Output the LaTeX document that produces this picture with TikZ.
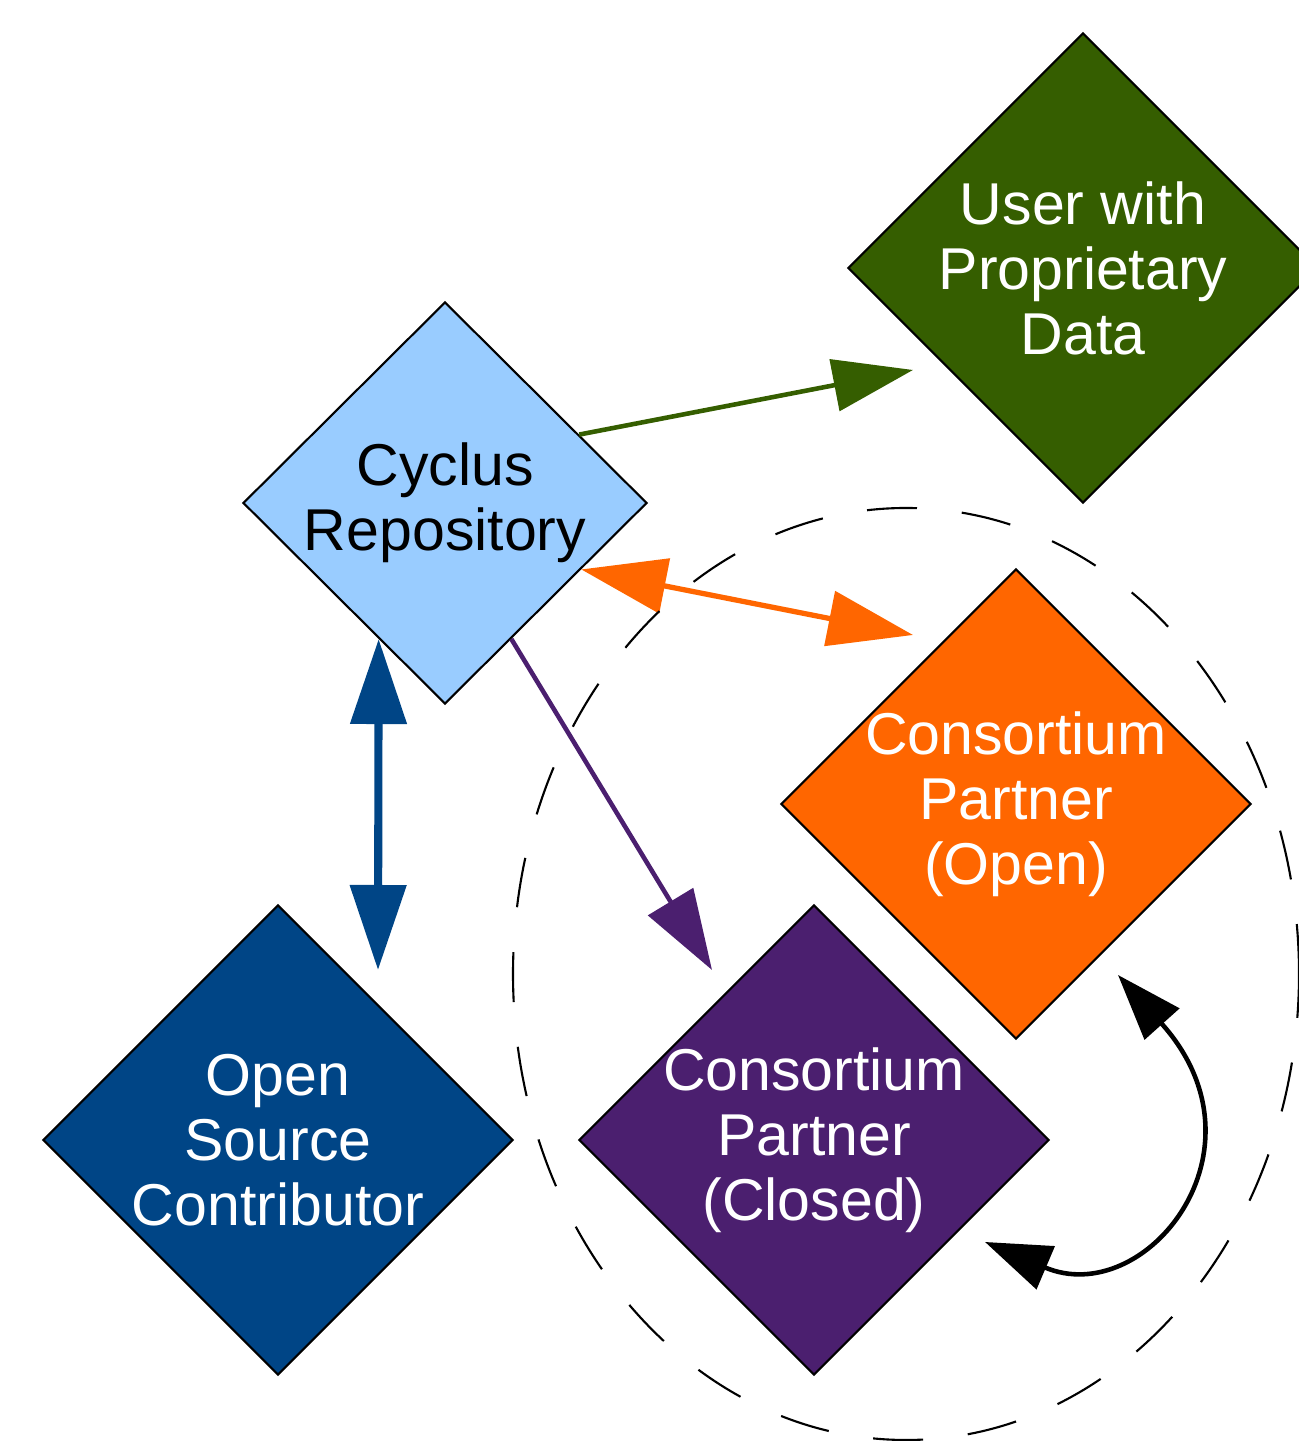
\documentclass[tikz,border=0pt]{standalone}
\usepackage{fontspec}
\setmainfont{Liberation Sans}
\usetikzlibrary{shapes.geometric}
\usetikzlibrary{arrows.meta}
\definecolor{repo fill}{HTML}{99CCFF}
\definecolor{prop green}{HTML}{355E00}
\definecolor{open orange}{HTML}{FF6600}
\definecolor{closed purple}{HTML}{4B1F6F}
\definecolor{source blue}{HTML}{004586}
\tikzset{party/.style={diamond, draw=black, line width=0.6pt, aspect=1, inner sep=-2pt,
        minimum width=4.7cm, minimum height=4.7cm, align=center, text=white,
        font=\fontsize{16.8}{18.5}\selectfont},
    link/.style={line width=1.3pt, -{Triangle[length=0.8cm,width=0.52cm]}},
    twoway/.style={line width=1.5pt, {Triangle[length=0.85cm,width=0.55cm]}-{Triangle[length=0.85cm,width=0.55cm]}},
    ring/.style={draw=black, line width=0.6pt, dash pattern=on 0.5cm off 0.45cm}}

\begin{document}
\begin{tikzpicture}
    \useasboundingbox (0,0) rectangle (12.98,14.41);
    \node[party, fill=repo fill, text=black, minimum width=4.04cm, minimum height=4.02cm] (cyc) at (4.45,9.38) {Cyclus\\Repository};
    \node[party, fill=prop green] (usr) at (10.83,11.73) {User with\\Proprietary\\Data};
    \node[party, fill=open orange] (cpo) at (10.16,6.37) {Consortium\\Partner\\(Open)};
    \node[party, fill=closed purple] (cpc) at (8.14,3.01) {Consortium\\Partner\\(Closed)};
    \node[party, fill=source blue] (osc) at (2.78,3.01) {Open\\Source\\Contributor};
    \coordinate (usr in) at (9.13,10.71);
    \coordinate (cpo in) at (9.13,8.06);
    \coordinate (cpc in) at (7.12,4.71);
    \coordinate (osc in) at (3.78,4.71);
    \coordinate (cpo out) at (11.18,4.66);
    \coordinate (cpc out) at (9.85,1.99);
    \draw[link, color=prop green] (cyc.27) -- (usr in);
    \draw[twoway, color=open orange] (cyc.-26) -- (cpo in);
    \draw[link, color=closed purple] (cyc.-64) -- (cpc in);
    \draw[twoway, color=source blue, line width=2.3pt] (cyc.-116.6) -- (osc in);
    \draw[line width=1.3pt, {Triangle[length=0.66cm,width=0.46cm]}-{Triangle[length=0.66cm,width=0.46cm]}]
        (cpo out) .. controls (12.75,2.91) and (11.45,1.31) .. (cpc out);
    \draw[ring] (9.06,4.67) ellipse (3.93cm and 4.66cm);
\end{tikzpicture}
\end{document}
